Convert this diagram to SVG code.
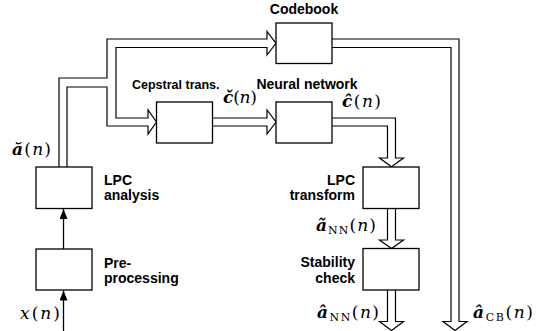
<svg xmlns="http://www.w3.org/2000/svg" width="549" height="331" viewBox="0 0 549 331">
<defs>
<style>
.box{fill:#fff;stroke:#000;stroke-width:1.3}
.wide{fill:#fff;stroke:#000;stroke-width:1.2;stroke-linejoin:miter}
.thin{fill:none;stroke:#000;stroke-width:1.3}
.lbl{font-family:"Liberation Sans",Arial,sans-serif;font-weight:bold;font-size:14px;fill:#000}
.m{font-family:"DejaVu Serif","Liberation Serif",serif;font-size:17px;fill:#000}
.v{font-weight:bold;font-style:italic}
.i{font-style:italic}
.sub{font-size:11px}
</style>
<marker id="ah" markerWidth="10" markerHeight="8" refX="10" refY="4" orient="auto" markerUnits="userSpaceOnUse">
<path d="M0,0 L10,4 L0,8 Z" fill="#000"/>
</marker>
</defs>
<rect width="549" height="331" fill="#fff"/>

<g id="connectors">
<path class="wide" d="M59,167 V78 H107 V39 H267 V31.5 L276,43.3 L267,55 V47.5 H116 V118 H148 V110 L156.5,122 L148,134 V126 H107 V87 H67 V167"/>
<path class="wide" d="M212.5,118 H267 V110 L276,122 L267,134 V126 H212.5"/>
<path class="wide" d="M332,118 H395.5 V158 H403.5 L391.5,166.7 L379.5,158 H387.5 V126 H332"/>
<path class="wide" d="M387.5,208.5 V240 H379.5 L391.5,248.5 L403.5,240 H395.5 V208.5"/>
<path class="wide" d="M387.5,290 V321.5 H379.5 L391.5,330.5 L403.5,321.5 H395.5 V290"/>
<path class="wide" d="M332,39 H459 V321.5 H467 L455,330.5 L443,321.5 H451 V47.5 H332"/>
<line class="thin" x1="63.5" y1="249" x2="63.5" y2="209" marker-end="url(#ah)"/>
<line class="thin" x1="63.5" y1="331" x2="63.5" y2="290.5" marker-end="url(#ah)"/>
</g>

<g id="codebook">
<rect class="box" x="276" y="23" width="56" height="40.5"/>
<text class="lbl" x="304" y="13.5" text-anchor="middle">Codebook</text>
</g>
<g id="cepstral">
<rect class="box" x="156.5" y="102" width="56" height="41"/>
<text class="lbl" x="132" y="89" style="font-size:12.5px">Cepstral trans.</text>
</g>
<g id="neural">
<rect class="box" x="276" y="102" width="56" height="41"/>
<text class="lbl" x="307" y="89" text-anchor="middle">Neural network</text>
</g>
<g id="lpc-analysis">
<rect class="box" x="36" y="167" width="56" height="41.5"/>
<text class="lbl" x="104" y="184.5">LPC</text>
<text class="lbl" x="104" y="200">analysis</text>
</g>
<g id="preprocessing">
<rect class="box" x="36" y="249" width="56" height="41"/>
<text class="lbl" x="104" y="267.5">Pre-</text>
<text class="lbl" x="104" y="283">processing</text>
</g>
<g id="lpc-transform">
<rect class="box" x="363" y="167" width="56" height="41.5"/>
<text class="lbl" x="355" y="184.5" text-anchor="end">LPC</text>
<text class="lbl" x="355" y="200" text-anchor="end">transform</text>
</g>
<g id="stability">
<rect class="box" x="363" y="248.5" width="56" height="41.5"/>
<text class="lbl" x="355" y="267" text-anchor="end">Stability</text>
<text class="lbl" x="355" y="282.5" text-anchor="end">check</text>
</g>

<g id="labels">
<text class="m" x="12" y="155" textLength="39" lengthAdjust="spacing"><tspan class="v">ă</tspan>(<tspan class="i">n</tspan>)</text>
<text class="m" x="223" y="103" textLength="34" lengthAdjust="spacing"><tspan class="v">č</tspan>(<tspan class="i">n</tspan>)</text>
<text class="m" x="342" y="107" textLength="39" lengthAdjust="spacing"><tspan class="v">ĉ</tspan>(<tspan class="i">n</tspan>)</text>
<text class="m" x="20" y="319" textLength="40" lengthAdjust="spacing"><tspan class="i">x</tspan>(<tspan class="i">n</tspan>)</text>
<text class="m" x="316" y="231" textLength="60" lengthAdjust="spacing"><tspan class="v">ã</tspan><tspan class="sub" dy="3">NN</tspan><tspan dy="-3">(</tspan><tspan class="i">n</tspan>)</text>
<text class="m" x="317" y="318" textLength="62" lengthAdjust="spacing"><tspan class="v">â</tspan><tspan class="sub" dy="3">NN</tspan><tspan dy="-3">(</tspan><tspan class="i">n</tspan>)</text>
<text class="m" x="473" y="318" textLength="60" lengthAdjust="spacing"><tspan class="v">â</tspan><tspan class="sub" dy="3">CB</tspan><tspan dy="-3">(</tspan><tspan class="i">n</tspan>)</text>
</g>
</svg>
